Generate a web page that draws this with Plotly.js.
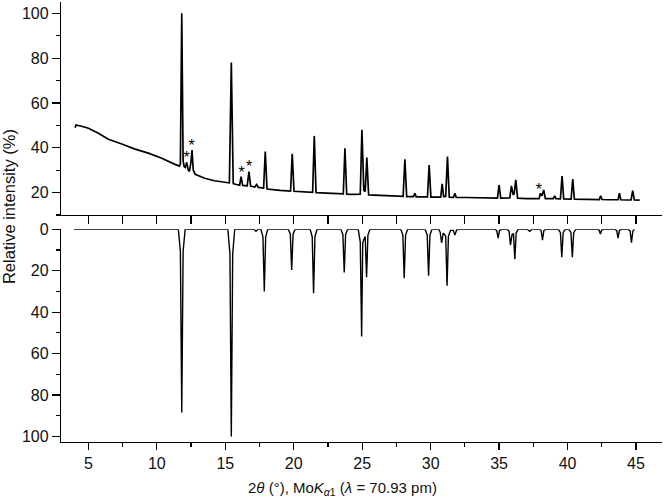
<!DOCTYPE html>
<html>
<head>
<meta charset="utf-8">
<script src="https://cdn.plot.ly/plotly-3.0.1.min.js"></script>
<style>html,body{margin:0;padding:0;background:#fff;}#chart{width:667px;height:500px;}</style>
</head>
<body>
<div id="chart"></div>
<script>
// Experimental pattern (top panel): 2θ (°) and relative intensity (%)
const expX = [4.03,4.1,4.5,5.0,5.73,6.46,7.44,8.41,9.38,10.36,11.33,11.65,
  11.72,11.82,11.92,12.0,12.08,12.18,12.3,12.38,12.48,12.57,12.66,12.8,13.5,14.2,15.1,
  15.3,15.44,15.58,15.8,16.05,16.15,16.27,16.6,16.73,16.85,17.15,17.29,17.42,
  17.8,17.92,18.05,18.5,19.0,19.77,19.89,20.02,20.45,21.0,21.38,21.5,21.63,22.4,23.2,
  23.62,23.74,23.87,24.3,24.86,24.98,25.12,25.22,25.34,25.47,26.0,27.0,
  27.99,28.12,28.25,28.75,28.85,28.95,29.77,29.89,30.02,30.4,
  30.74,30.84,30.95,31.1,31.23,31.36,31.67,31.77,31.87,32.6,33.8,
  34.88,35.0,35.12,35.78,35.9,36.03,36.1,36.22,36.35,37.0,
  37.92,38.02,38.12,38.26,38.38,38.96,39.06,39.16,39.48,39.6,39.72,
  40.26,40.38,40.5,41.0,41.8,42.32,42.42,42.52,43.0,43.69,43.79,43.89,44.3,
  44.64,44.76,44.88,45.27];
const expY = [49.0,50.2,49.6,48.7,46.5,43.8,41.7,39.4,37.6,35.3,32.6,31.8,
  33.0,100,34.0,31.5,31.2,33.5,30.0,29.5,33.0,39.0,30.0,28.2,26.4,25.3,24.5,
  24.4,78,24.0,23.6,23.3,27.1,23.2,23.0,29.4,22.9,22.5,23.6,22.3,
  22.0,38.3,21.6,21.2,21.0,20.7,37.3,20.6,20.4,20.2,20.1,45.3,20.0,19.8,19.5,
  19.4,39.8,19.3,19.2,19.3,48,21.0,20.5,35.6,19.0,18.8,18.4,
  18.3,34.9,18.2,18.2,19.7,18.1,18.1,32.3,18.0,18.0,
  18.0,23.9,18.2,18.3,36.1,18.0,17.9,19.7,17.9,17.8,17.5,
  17.5,23.4,17.5,17.6,23.0,19.0,19.5,25.7,17.5,17.3,
  17.3,19.7,18.5,21.2,17.3,17.3,18.5,17.3,17.2,27.4,17.2,
  17.1,26.0,17.1,17.0,16.9,16.9,18.6,16.9,16.8,16.8,19.7,16.8,16.7,
  16.7,20.9,16.7,16.6];

// Calculated pattern (bottom panel, drawn downward)
const calcX = [3.95,
  11.57,11.72,11.82,11.92,12.07,
  15.19,15.34,15.44,15.54,15.69,
  17.1,17.24,17.4,
  17.6,17.75,17.85,17.95,18.1,
  19.6,19.75,19.85,19.95,20.1,
  21.2,21.35,21.45,21.55,21.7,
  23.44,23.59,23.69,23.79,23.94,
  24.71,24.86,24.96,25.04,25.12,25.22,25.32,25.42,25.57,
  27.82,27.97,28.07,28.17,28.32,
  29.6,29.75,29.85,29.95,30.1,
  30.6,30.7,30.8,30.92,31.1,31.2,31.3,31.45,31.65,31.77,31.9,32.05,
  34.7,34.83,34.93,35.03,35.2,
  35.6,35.73,35.83,35.95,36.05,36.15,36.25,36.4,
  37.05,37.24,37.4,
  37.95,38.07,38.17,38.27,38.4,
  39.33,39.48,39.58,39.68,39.83,
  40.1,40.25,40.35,40.45,40.6,
  42.15,42.3,42.4,42.5,42.65,
  43.45,43.59,43.69,43.79,43.95,
  44.42,44.57,44.67,44.77,44.9];
const calcY = [0,
  0,10.6,88.4,10.6,0,
  0,12,100,12,0,
  0,1,0,
  0,3.6,30,3.6,0,
  0,2.4,19.6,2.4,0,
  0,3.7,30.9,3.7,0,
  0,2.5,20.9,2.5,0,
  0,6.2,51.8,6.5,5,3.5,23.1,2.8,0,
  0,2.8,23.6,2.8,0,
  0,2.7,22.4,2.7,0,
  0,1.5,6.5,1.8,3.3,27.2,3.3,0.5,0.5,2.7,0.3,0,
  0,0.6,4.3,0.6,0,
  0,1,7.6,2.5,2,14.5,1.7,0,
  0,1,0,
  0,0.6,5.2,0.6,0,
  0,1.6,13.5,1.6,0,
  0,1.6,13.5,1.6,0,
  0,0.3,2.3,0.3,0,
  0,0.5,4.3,0.5,0,
  0,0.8,6.5,0.8,0];

// Asterisk marks (impurity reflections)
const starX = [12.18, 12.55, 16.2, 16.75, 37.9];
const starY = [35.2, 40.4, 28.2, 31.1, 20.6];

// Tick settings
const xMajor = 5, xMinor = 2.5, yMajor = 20, yMinor = 10;

const FONT = 'Liberation Sans, Arial, Helvetica, sans-serif';

const traces = [
  {x: expX, y: expY, xaxis: 'x', yaxis: 'y', type: 'scatter', mode: 'lines',
   line: {color: '#000', width: 1.7}, hoverinfo: 'skip'},
  {x: starX, y: starY, xaxis: 'x', yaxis: 'y', type: 'scatter', mode: 'text',
   text: starX.map(() => '*'), textposition: 'middle center',
   textfont: {family: FONT, size: 16, color: '#000'}, hoverinfo: 'skip'},
  {x: calcX, y: calcY, xaxis: 'x2', yaxis: 'y2', type: 'scatter', mode: 'lines',
   line: {color: '#000', width: 1.4}, hoverinfo: 'skip'}
];

const common = {showgrid: false, zeroline: false, showline: true, linecolor: '#000', linewidth: 1.2,
  tickcolor: '#000', tickwidth: 1.2, tickfont: {family: FONT, size: 16, color: '#111'}};

const layout = {
  width: 667, height: 500,
  margin: {l: 61, r: 5, t: 2, b: 58},
  paper_bgcolor: '#fff', plot_bgcolor: '#fff',
  showlegend: false,
  font: {family: FONT, color: '#000'},
  xaxis: Object.assign({}, common, {domain: [0, 1], anchor: 'y', range: [3, 46.9],
    tick0: 0, dtick: xMinor, ticks: 'outside', ticklen: 8, showticklabels: false}),
  yaxis: Object.assign({}, common, {domain: [0.5159, 1], anchor: 'x', range: [10, 105.05],
    tick0: 0, dtick: yMajor, ticks: 'outside', ticklen: 8,
    minor: {dtick: yMinor, tick0: 0, ticks: 'outside', ticklen: 4, tickcolor: '#000', tickwidth: 1.2}}),
  xaxis2: Object.assign({}, common, {domain: [0, 1], anchor: 'y2', range: [3, 46.9],
    tick0: 0, dtick: xMajor, ticks: 'outside', ticklen: 7,
    minor: {dtick: xMinor, tick0: 0, ticks: 'outside', ticklen: 4, tickcolor: '#000', tickwidth: 1.2}}),
  yaxis2: Object.assign({}, common, {domain: [0, 0.4834], anchor: 'x2', range: [102.7, 0],
    tick0: 0, dtick: yMajor, ticks: 'outside', ticklen: 8,
    minor: {dtick: yMinor, tick0: 0, ticks: 'outside', ticklen: 4, tickcolor: '#000', tickwidth: 1.2}}),
  annotations: [
    {text: 'Relative intensity (%)', xref: 'paper', yref: 'paper', x: -0.0865, y: 0.534,
     xanchor: 'center', yanchor: 'middle', textangle: -90, showarrow: false,
     font: {family: FONT, size: 16.5, color: '#111'}},
    {text: '2<i>θ</i> (°), Mo<i>K</i><sub><i>α</i>1</sub> (<i>λ</i> = 70.93 pm)', xref: 'paper', yref: 'paper',
     x: 0.469, y: -0.1068, xanchor: 'center', yanchor: 'middle', showarrow: false,
     font: {family: FONT, size: 15, color: '#111'}}
  ]
};

Plotly.newPlot('chart', traces, layout, {displayModeBar: false, staticPlot: true});
</script>
</body>
</html>
